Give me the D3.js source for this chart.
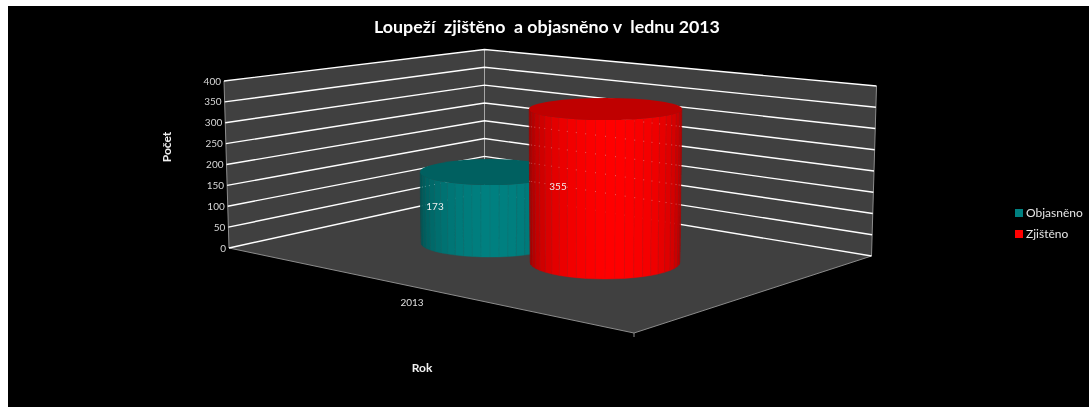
<!DOCTYPE html>
<html><head><meta charset="utf-8">
<script src="https://cdn.jsdelivr.net/npm/d3@7"></script>
<style>html,body{margin:0;padding:0;background:#fff}svg{display:block}text{font-family:Lato,"Open Sans",sans-serif}</style>
</head><body><svg id="c" width="1089" height="407"></svg>
<script>
const titleText = "Loupeží  zjištěno  a objasněno v  lednu 2013";
const categories = ["2013"];
const seriesNames = ["Objasněno", "Zjištěno"];
const seriesValues = [173, 355];
const seriesColors = ["#008080", "#ff0000"];
const topColors = ["#006060", "#bf0000"];
const yTicks = [0, 50, 100, 150, 200, 250, 300, 350, 400];

const svg = d3.select("#c");
svg.append("rect").attr("x", 8).attr("y", 6).attr("width", 1081).attr("height", 401).attr("fill", "#000");

// Perspective frame: where value 0 and value 400 land on each vertical wall edge
const domain = [0, 400];
const leftY = d3.scaleLinear(domain, [248, 81]), leftX = d3.scaleLinear(domain, [229, 224]);
const backY = d3.scaleLinear(domain, [192, 49.5]), backX = () => 484.5;
const rightY = d3.scaleLinear(domain, [256, 86]), rightX = d3.scaleLinear(domain, [871.5, 876.5]);
const front = [634, 333];
const poly = d3.line();
const wallColor = "#404040";
const hi = domain[1], lo = domain[0];

svg.append("path").attr("fill", wallColor).attr("d", poly([[leftX(lo), leftY(lo)], [leftX(hi), leftY(hi)], [backX(hi), backY(hi)], [backX(lo), backY(lo)]]) + "Z");
svg.append("path").attr("fill", wallColor).attr("d", poly([[backX(hi), backY(hi)], [rightX(hi), rightY(hi)], [rightX(lo), rightY(lo)], [backX(lo), backY(lo)]]) + "Z");
svg.append("path").attr("fill", wallColor).attr("d", poly([[leftX(lo), leftY(lo)], [backX(lo), backY(lo)], [rightX(lo), rightY(lo)], front]) + "Z");

// Frame edges
const edge = (a, b, c, w) => svg.append("line").attr("x1", a[0]).attr("y1", a[1]).attr("x2", b[0]).attr("y2", b[1]).attr("stroke", c).attr("stroke-width", w);
edge([leftX(lo), leftY(lo)], [leftX(hi), leftY(hi)], "#8c8c8c", 1);
edge([backX(lo), backY(lo)], [backX(hi), backY(hi)], "#a6a6a6", 1);
edge([rightX(lo), rightY(lo)], [rightX(hi), rightY(hi)], "#8c8c8c", 1);
edge([leftX(lo), leftY(lo)], front, "#8c8c8c", 1);
edge(front, [rightX(lo), rightY(lo)], "#8c8c8c", 1);
edge(front, [front[0], front[1] + 4], "#8c8c8c", 1);

// Text goes in a group with near-full opacity so it renders with greyscale antialiasing
const textLayer = svg.append("g");

// Gridlines
yTicks.forEach(t => {
  svg.append("path").attr("fill", "none").attr("stroke", "#ffffff").attr("stroke-width", 1.4)
    .attr("d", poly([[leftX(t), leftY(t)], [backX(t), backY(t)], [rightX(t), rightY(t)]]));
});

// Wall height at any screen x, used for the specks that show through the cylinders
const wallYAt = (x, t) => x < 484.5
  ? d3.scaleLinear([leftX(t), 484.5], [leftY(t), backY(t)])(x)
  : d3.scaleLinear([484.5, rightX(t)], [backY(t), rightY(t)])(x);

// Cylinder layout: base ellipse, top ellipse (perspective taper), px per unit
const cyl = [
  { bx: 490, by: 243, brx: 69, bry: 14, tx: 490, trx: 70, tryy: 13, k: 0.41, peak: 0.08 },
  { bx: 605, by: 262, brx: 75, bry: 17, tx: 605.5, trx: 76.5, tryy: 11, k: 0.431, peak: 0.1 }
];
const facetCount = 24;
const angles = d3.range(facetCount + 1).map(i => -Math.PI / 2 + Math.PI * i / facetCount);

seriesValues.forEach((v, s) => {
  const g = cyl[s];
  const h = d3.scaleLinear([0, 400], [g.by, g.by - g.k * 400]);
  const topY = h(v);
  const bodyColor = d3.color(seriesColors[s]);
  const group = svg.append("g");
  const shade = d3.scaleLinear([0, 1], [0.62, 1]).clamp(true);
  const pt = (a, top) => top
    ? [g.tx + g.trx * Math.sin(a), topY + g.tryy * Math.cos(a)]
    : [g.bx + g.brx * Math.sin(a), g.by + g.bry * Math.cos(a)];
  angles.slice(0, -1).forEach((a, i) => {
    const b = angles[i + 1], mid = (a + b) / 2;
    const f = shade(Math.pow(Math.max(0, Math.cos(mid - g.peak)), 0.9));
    const c = d3.rgb(bodyColor.r * f, bodyColor.g * f, bodyColor.b * f);
    group.append("path").attr("fill", c).attr("stroke", c).attr("stroke-width", 0.4)
      .attr("d", poly([pt(a, true), pt(b, true), pt(b, false), pt(a, false)]) + "Z");
    if (i > 0) {
      const p = pt(a, true), q = pt(a, false);
      group.append("line").attr("x1", p[0]).attr("y1", p[1]).attr("x2", q[0]).attr("y2", q[1])
        .attr("stroke", d3.rgb(bodyColor.r * f * 0.72 + 20, bodyColor.g * f * 0.72 + 20, bodyColor.b * f * 0.72 + 20)).attr("stroke-width", 0.45);
      yTicks.forEach(t => {
        const y = wallYAt(p[0], t);
        if (y > p[1] + 3 && y < q[1] - 3 && t > 0)
          group.append("rect").attr("x", p[0] - 0.5).attr("y", y - 0.5).attr("width", 1).attr("height", 1)
            .attr("fill", "#fff").attr("opacity", 0.28);
      });
    }
  });
  group.append("ellipse").attr("cx", g.tx).attr("cy", topY).attr("rx", g.trx).attr("ry", g.tryy).attr("fill", topColors[s]);
});

// Text layer on top
textLayer.raise().attr("opacity", 0.995);

yTicks.forEach(t => textLayer.append("text").attr("x", leftX(t) - 3).attr("y", leftY(t) + 3.5).attr("text-anchor", "end")
  .attr("font-size", 10).attr("fill", "#d9d9d9").text(t));

// Data labels
const labelAt = [[435, 209.5], [558, 189.5]];
seriesValues.forEach((v, s) => textLayer.append("text").attr("x", labelAt[s][0]).attr("y", labelAt[s][1])
  .attr("text-anchor", "middle").attr("font-size", 10).attr("fill", "#f0f0f0").text(v));

// Titles and category
textLayer.append("text").attr("x", 547).attr("y", 33).attr("text-anchor", "middle").attr("font-size", 17.8).attr("font-weight", 700).attr("fill", "#fff").style("white-space", "pre").text(titleText);
textLayer.append("text").attr("x", 412).attr("y", 306).attr("text-anchor", "middle").attr("font-size", 10).attr("fill", "#e0e0e0").text(categories[0]);
textLayer.append("text").attr("x", 422).attr("y", 372).attr("text-anchor", "middle").attr("font-size", 12).attr("font-weight", 700).attr("fill", "#f2f2f2").text("Rok");
textLayer.append("text").attr("transform", "translate(171,147) rotate(-90)").attr("text-anchor", "middle").attr("font-size", 12).attr("font-weight", 700).attr("fill", "#f2f2f2").text("Počet");

// Legend
const legendY = d3.scalePoint(seriesNames, [213, 234]);
seriesNames.forEach((n, s) => {
  svg.append("rect").attr("x", 1015).attr("y", legendY(n) - 4).attr("width", 8).attr("height", 8).attr("fill", seriesColors[s]);
  textLayer.append("text").attr("x", 1026).attr("y", legendY(n) + 4).attr("font-size", 12).attr("fill", "#e8e8e8").text(n);
});
</script></body></html>
